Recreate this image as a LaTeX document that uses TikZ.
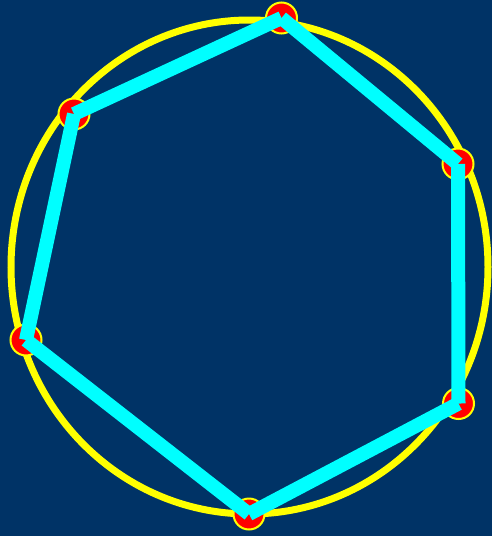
\documentclass[tikz,border=0pt]{standalone}
\definecolor{navy}{HTML}{003366}
\definecolor{aqua}{HTML}{00FFFF}
\definecolor{gold}{HTML}{FFFF00}
\definecolor{dotred}{HTML}{FF0000}
\begin{document}
\begin{tikzpicture}[x=1pt,y=-1pt,
  vertex/.style={circle,fill=dotred,draw=gold,line width=2pt,minimum size=31pt,inner sep=0pt},
  side/.style={aqua,line width=14pt,line cap=butt}]
  \fill[navy] (0,0) rectangle (492,536);
  \useasboundingbox (0,0) rectangle (492,536);
  \draw[gold,line width=7pt] (249.5,267) ellipse [x radius=238.5,y radius=247];
  \node[vertex] (a) at (281.5,18) {};
  \node[vertex] (b) at (458,164) {};
  \node[vertex] (c) at (458.5,403.5) {};
  \node[vertex] (d) at (249,514) {};
  \node[vertex] (e) at (26,340) {};
  \node[vertex] (f) at (74,114) {};
  \draw[side] (a.center) -- (b.center);
  \draw[side] (b.center) -- (c.center);
  \draw[side] (c.center) -- (d.center);
  \draw[side] (d.center) -- (e.center);
  \draw[side] (e.center) -- (f.center);
  \draw[side] (f.center) -- (a.center);
\end{tikzpicture}
\end{document}
